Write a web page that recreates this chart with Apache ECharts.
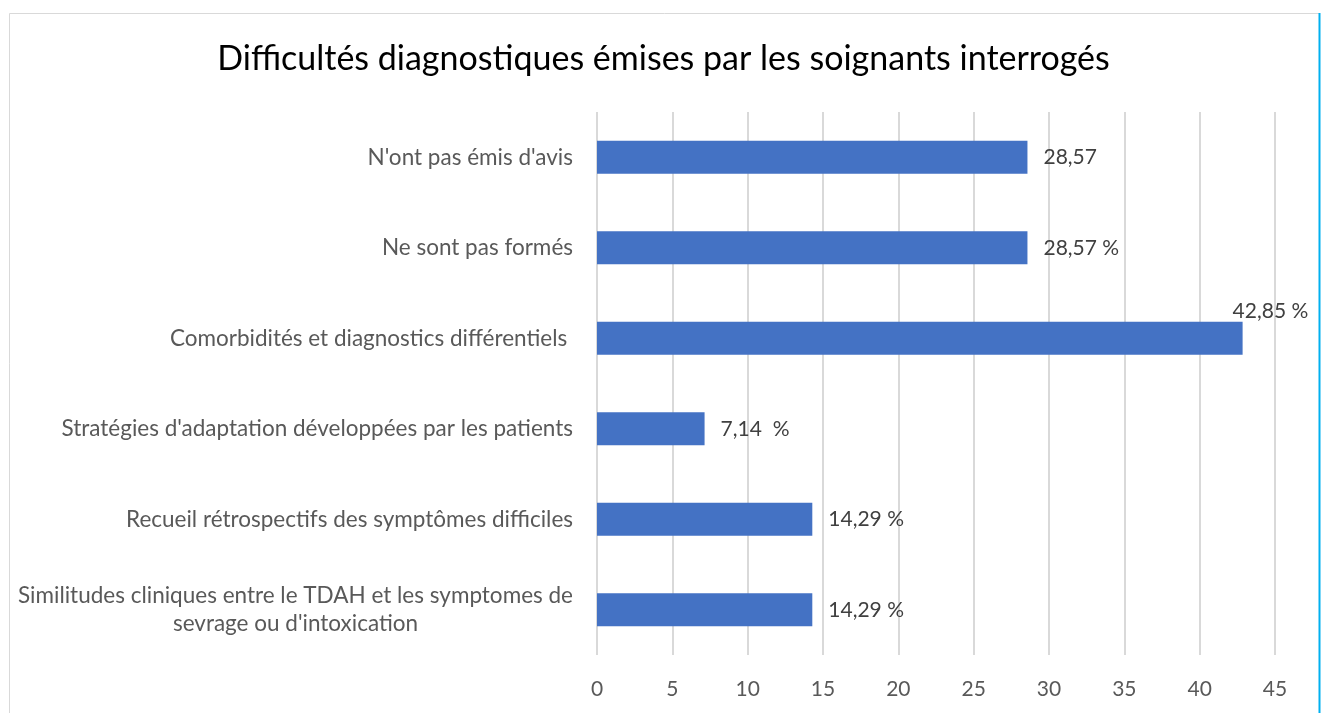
<!DOCTYPE html>
<html>
<head>
	<meta charset="utf-8">
	<title>Difficultés diagnostiques</title>
	<script type="text/javascript" src="https://cdn.jsdelivr.net/npm/echarts@6/dist/echarts.min.js"></script>
	<style>
		html, body { margin: 0; padding: 0; background: #fff; }
		#main { width: 1327px; height: 713px; }
	</style>
</head>
<body>
	<div id="main"></div>
	<script type="text/javascript">
		// catégories (de haut en bas)
		var categories = [
			"N'ont pas émis d'avis",
			'Ne sont pas formés',
			'Comorbidités et diagnostics différentiels ',
			"Stratégies d'adaptation développées par les patients",
			'Recueil rétrospectifs des symptômes difficiles',
			"Similitudes cliniques entre le TDAH et les symptomes de\nsevrage ou d'intoxication"
		];
		var values = [28.57, 28.57, 42.85, 7.14, 14.29, 14.29];
		var labelTexts = ['28,57', '28,57 %', '42,85 %', '7,14  %', '14,29 %', '14,29 %'];
		var xTicks = { min: 0, max: 45, interval: 5 };

		var font = 'Lato, "Open Sans", sans-serif';
		var myChart = echarts.init(document.getElementById('main'));

		var option = {
			backgroundColor: '#fff',
			animation: false,
			title: {
				text: 'Difficultés diagnostiques émises par les soignants interrogés',
				left: 'center',
				top: 37,
				textStyle: { fontFamily: font, fontSize: 34, fontWeight: 'normal', color: '#000' }
			},
			graphic: [
				{ type: 'rect', shape: { x: 9.5, y: 13.5, width: 1310, height: 720 }, style: { fill: 'none', stroke: '#d9d9d9', lineWidth: 1 } },
				{ type: 'line', shape: { x1: 1319.5, y1: 13, x2: 1319.5, y2: 713 }, style: { stroke: '#00b0f0', lineWidth: 2 } }
			],
			grid: { left: 597, right: 52, top: 112, bottom: 58 },
			xAxis: {
				type: 'value',
				min: xTicks.min,
				max: xTicks.max,
				interval: xTicks.interval,
				axisLine: { show: false },
				axisTick: { show: false },
				splitLine: { lineStyle: { color: '#d9d9d9', width: 2 } },
				axisLabel: { fontFamily: font, fontSize: 21, color: '#595959', margin: 24 }
			},
			yAxis: {
				type: 'category',
				inverse: true,
				data: categories,
				axisLine: { show: false },
				axisTick: { show: false },
				axisLabel: {
					fontFamily: font,
					fontSize: 22.5,
					color: '#595959',
					margin: 24,
					lineHeight: 28,
					formatter: function (v) {
						return v.indexOf('\n') >= 0 ? '{c|' + v.split('\n').join('}\n{c|') + '}' : v;
					},
					rich: { c: { align: 'center', fontFamily: font, fontSize: 22.5, color: '#595959', lineHeight: 28 } }
				}
			},
			series: [{
				type: 'bar',
				barWidth: 33,
				itemStyle: { color: '#4472c4' },
				data: values.map(function (v, i) {
					var d = { value: v, label: { formatter: labelTexts[i] } };
					if (v > 40) {
						d.label.distance = 0;
						d.label.offset = [-10, -27];
					}
					return d;
				}),
				label: {
					show: true,
					position: 'right',
					distance: 16,
					fontFamily: font,
					fontSize: 21,
					color: '#404040'
				}
			}]
		};

		myChart.setOption(option);
	</script>
</body>
</html>
